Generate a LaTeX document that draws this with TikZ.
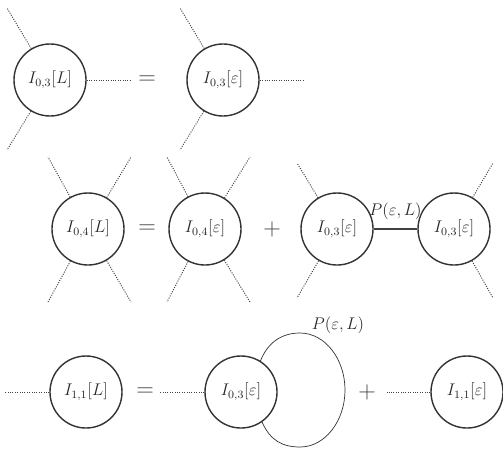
\documentclass[tikz,border=0pt]{standalone}
\usepackage{amsmath,amssymb}
\usepackage{xcolor}
\usepackage{tikz}

\begin{document}
\begin{tikzpicture}[
    x=0.025cm, y=-0.025cm,
    vertex/.style={circle, draw=black!80, line width=1pt, minimum size=1.8cm, inner sep=0pt, font=\large, text=black!85},
    leg/.style={densely dotted, line width=0.7pt, black!75},
    prop/.style={line width=1.1pt, black!75},
    loopline/.style={line width=0.5pt, black!80},
    op/.style={font=\LARGE, text=black!75},
    plabel/.style={font=\large, text=black!85},
]
\useasboundingbox (0,0) rectangle (503,454);

% Cubic vertex
\node[vertex] (threeL) at (50,80) {$I_{0,3}[L]$};
\node[op] (eqA) at (147,80) {$=$};
\node[vertex] (threeE) at (223,80) {$I_{0,3}[\varepsilon]$};

\coordinate (threeL-ul) at (7,8);
\coordinate (threeL-ll) at (7,150);
\coordinate (threeL-r) at (132,80);
\coordinate (threeE-ul) at (180,8);
\coordinate (threeE-ll) at (180,150);
\coordinate (threeE-r) at (305,80);

\draw[leg] (threeL) -- (threeL-ul);
\draw[leg] (threeL) -- (threeL-ll);
\draw[leg] (threeL) -- (threeL-r);
\draw[leg] (threeE) -- (threeE-ul);
\draw[leg] (threeE) -- (threeE-ll);
\draw[leg] (threeE) -- (threeE-r);

% Quartic vertex
\node[vertex] (fourL) at (88,229) {$I_{0,4}[L]$};
\node[op] (eqB) at (147,229) {$=$};
\node[vertex] (fourE) at (205,229) {$I_{0,4}[\varepsilon]$};
\node[op] (plusB) at (272,229) {$+$};
\node[vertex] (treeA) at (337,229) {$I_{0,3}[\varepsilon]$};
\node[vertex] (treeB) at (454,229) {$I_{0,3}[\varepsilon]$};

\coordinate (fourL-ul) at (48,157);
\coordinate (fourL-ur) at (131,157);
\coordinate (fourL-ll) at (48,302);
\coordinate (fourL-lr) at (131,302);
\coordinate (fourE-ul) at (167,157);
\coordinate (fourE-ur) at (250,157);
\coordinate (fourE-ll) at (167,302);
\coordinate (fourE-lr) at (250,302);
\coordinate (treeA-ul) at (297,163);
\coordinate (treeA-ll) at (297,298);
\coordinate (treeB-ur) at (493,163);
\coordinate (treeB-lr) at (493,298);

\draw[leg] (fourL) -- (fourL-ul);
\draw[leg] (fourL) -- (fourL-ur);
\draw[leg] (fourL) -- (fourL-ll);
\draw[leg] (fourL) -- (fourL-lr);
\draw[leg] (fourE) -- (fourE-ul);
\draw[leg] (fourE) -- (fourE-ur);
\draw[leg] (fourE) -- (fourE-ll);
\draw[leg] (fourE) -- (fourE-lr);
\draw[leg] (treeA) -- (treeA-ul);
\draw[leg] (treeA) -- (treeA-ll);
\draw[leg] (treeB) -- (treeB-ur);
\draw[leg] (treeB) -- (treeB-lr);

\draw[prop] (treeA) -- node[above=3pt, plabel] {$P(\varepsilon, L)$} (treeB);

% One-loop tadpole
\node[vertex] (oneL) at (86,392) {$I_{1,1}[L]$};
\node[op] (eqC) at (145,392) {$=$};
\node[vertex] (loopV) at (241,392) {$I_{0,3}[\varepsilon]$};
\node[op] (plusC) at (367,392) {$+$};
\node[vertex] (oneE) at (467,392) {$I_{1,1}[\varepsilon]$};

\coordinate (oneL-l) at (5,392);
\coordinate (loopV-l) at (160,392);
\coordinate (oneE-l) at (387,392);

\draw[leg] (oneL) -- (oneL-l);
\draw[leg] (loopV) -- (loopV-l);
\draw[leg] (oneE) -- (oneE-l);

\draw[loopline] (loopV.58) .. controls (268,342) and (282,333) .. (300,333)
    .. controls (325,333) and (345,359) .. (345,390)
    .. controls (345,421) and (325,447) .. (300,447)
    .. controls (282,447) and (270,440) .. (loopV.-55);
\node[plabel] (loopP) at (338,325) {$P(\varepsilon, L)$};

\end{tikzpicture}
\end{document}
